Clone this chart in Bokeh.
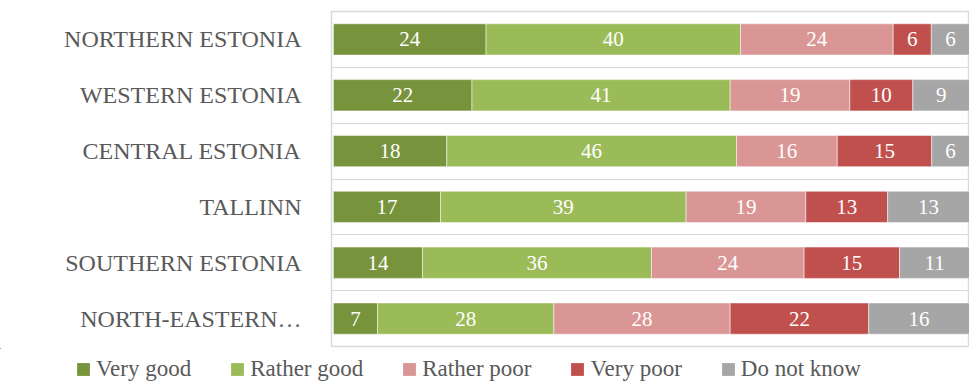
import numpy as np
from bokeh.plotting import figure
from bokeh.layouts import column
from bokeh.models import ColumnDataSource, Range1d, FixedTicker, Legend, LegendItem
from bokeh.core.properties import value
from bokeh.embed import file_html
from bokeh.resources import INLINE

regions = ["NORTHERN ESTONIA", "WESTERN ESTONIA", "CENTRAL ESTONIA",
           "TALLINN", "SOUTHERN ESTONIA", "NORTH-EASTERN…"]
series = ["Very good", "Rather good", "Rather poor", "Very poor", "Do not know"]
very_good = [24, 22, 18, 17, 14, 7]
rather_good = [40, 41, 46, 39, 36, 28]
rather_poor = [24, 19, 16, 19, 24, 28]
very_poor = [6, 10, 15, 13, 15, 22]
do_not_know = [6, 9, 6, 13, 11, 16]
colors = ["#77933C", "#9BBB59", "#D99694", "#C0504D", "#A6A6A6"]

vals = np.array([very_good, rather_good, rather_poor, very_poor, do_not_know], dtype=float)
pct = vals / vals.sum(axis=0) * 100.0
right = np.cumsum(pct, axis=0)
left = right - pct
ypos = np.arange(len(regions)) + 0.5

FONT = "Liberation Serif"

# ---- main chart ----
p = figure(width=969, height=348, output_backend="svg", toolbar_location=None,
           x_range=Range1d(-0.3, 100), y_range=Range1d(len(regions), 0),
           min_border_left=331, min_border_right=0, min_border_top=11,
           min_border_bottom=2)
p.outline_line_color = "#d9d9d9"
p.outline_line_width = 1.5

sources = []
for i, name in enumerate(series):
    src = ColumnDataSource(dict(y=ypos, left=left[i], right=right[i],
                                mid=(left[i] + right[i]) / 2,
                                lab=[str(int(v)) for v in vals[i]]))
    sources.append(src)
    p.hbar(y="y", left="left", right="right", height=0.56, source=src,
           fill_color=colors[i], line_color="white", line_width=0.5)
    p.text(x="mid", y="y", text="lab", source=src, text_color="white",
           text_font=value(FONT), text_font_size="21px",
           text_align="center", text_baseline="middle")

p.xaxis.visible = False
p.xgrid.visible = False
p.ygrid.ticker = FixedTicker(ticks=list(range(1, len(regions))))
p.ygrid.grid_line_color = "#d9d9d9"
p.ygrid.grid_line_width = 1

p.yaxis.ticker = FixedTicker(ticks=list(ypos))
p.yaxis.major_label_overrides = {float(y): r for y, r in zip(ypos, regions)}
p.yaxis.axis_line_color = None
p.yaxis.major_tick_line_color = None
p.yaxis.minor_tick_line_color = None
p.yaxis.major_label_standoff = 24
p.yaxis.major_label_text_font = FONT
p.yaxis.major_label_text_font_size = "24px"
p.yaxis.major_label_text_color = "#595959"

# ---- legend strip (same data sources, ranges keep the bars out of view) ----
lg = figure(width=969, height=35, output_backend="svg", toolbar_location=None,
            x_range=Range1d(1000, 1100), y_range=Range1d(-20, -19),
            min_border_left=0, min_border_right=0, min_border_top=0,
            min_border_bottom=0)
lg.outline_line_color = None
lg.outline_line_alpha = 0
lg.background_fill_color = "white"
lg.border_fill_color = "white"
lg.xaxis.visible = False
lg.yaxis.visible = False
lg.xgrid.visible = False
lg.ygrid.visible = False

items = []
for i, name in enumerate(series):
    r = lg.hbar(y="y", left="left", right="right", height=0.56, source=sources[i],
                fill_color=colors[i], line_color=None)
    items.append(LegendItem(label=name, renderers=[r]))

legend = Legend(items=items, orientation="horizontal",
                location=(75, 1), margin=0, padding=0,
                spacing=38, label_standoff=5, glyph_width=16, glyph_height=16,
                border_line_color=None, background_fill_alpha=0)
legend.label_text_font = FONT
legend.label_text_font_size = "23px"
legend.label_text_color = "#595959"
legend.label_text_baseline = "middle"
lg.add_layout(legend, "center")

for fig in (p, lg):
    if "frame_align" in fig.properties():
        fig.frame_align = False

layout = column(p, lg, spacing=0)
open("out.html", "w").write(file_html(layout, INLINE))
